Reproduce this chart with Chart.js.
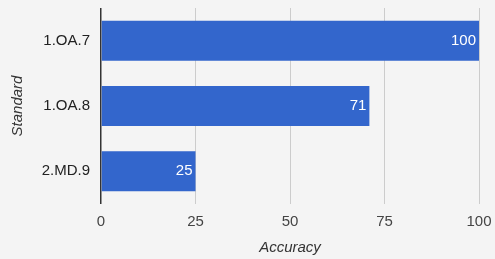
<!DOCTYPE html>
<html>
<head>
<meta charset="utf-8">
<script src="https://cdn.jsdelivr.net/npm/chart.js@4.4.1/dist/chart.umd.min.js"></script>
<style>
  html, body { margin: 0; padding: 0; background: #f4f4f4; }
  #wrap { width: 495px; height: 259px; position: relative; }
</style>
</head>
<body>
<div id="wrap"><canvas id="chart"></canvas></div>
<script>
const standards = ['1.OA.7', '1.OA.8', '2.MD.9'];
const accuracy = [100, 71, 25];
const accuracyTicks = [0, 25, 50, 75, 100];

const FONT = 'Arial, "Liberation Sans", sans-serif';

// draws the value at the inner end of each bar
const barValues = {
    id: 'barValues',
    afterDatasetsDraw(chart) {
        const ctx = chart.ctx;
        const meta = chart.getDatasetMeta(0);
        ctx.save();
        ctx.font = '15px ' + FONT;
        ctx.fillStyle = '#ffffff';
        ctx.textAlign = 'right';
        ctx.textBaseline = 'middle';
        meta.data.forEach((bar, i) => {
            ctx.fillText(String(accuracy[i]), bar.x - 3, bar.y);
        });
        ctx.restore();
    }
};

new Chart(document.getElementById('chart'), {
    type: 'bar',
    data: {
        labels: standards,
        datasets: [{
            label: 'Accuracy',
            data: accuracy,
            backgroundColor: '#3366cc',
            borderWidth: 0,
            barPercentage: 1,
            categoryPercentage: 0.612
        }]
    },
    options: {
        indexAxis: 'y',
        animation: false,
        responsive: true,
        maintainAspectRatio: false,
        layout: { padding: { top: 8, right: 16, bottom: 0, left: 0 } },
        scales: {
            x: {
                min: 0,
                max: 100,
                afterBuildTicks(scale) {
                    scale.ticks = accuracyTicks.map(v => ({ value: v }));
                },
                afterFit(scale) {
                    scale.height = 55;
                    scale.paddingLeft = 0;
                    scale.paddingRight = 0;
                },
                grid: {
                    drawTicks: false,
                    color: c => c.tick && c.tick.value === 0 ? '#333333' : '#cccccc',
                    lineWidth: c => c.tick && c.tick.value === 0 ? 1.5 : 1
                },
                border: { display: false },
                ticks: {
                    padding: 9,
                    color: '#444444',
                    font: { family: FONT, size: 15 }
                },
                title: {
                    display: true,
                    text: 'Accuracy',
                    color: '#333333',
                    padding: { top: 0, bottom: 2 },
                    font: { family: FONT, size: 15, style: 'italic' }
                }
            },
            y: {
                afterFit(scale) {
                    scale.width = 101;
                    scale.paddingTop = 0;
                    scale.paddingBottom = 0;
                },
                grid: { display: false, drawTicks: false },
                border: { display: false },
                ticks: {
                    padding: 11,
                    color: '#222222',
                    font: { family: FONT, size: 15 }
                },
                title: {
                    display: true,
                    text: 'Standard',
                    color: '#333333',
                    padding: { top: 9, bottom: 0 },
                    font: { family: FONT, size: 15, style: 'italic' }
                }
            }
        },
        plugins: {
            legend: { display: false },
            tooltip: { enabled: false }
        }
    },
    plugins: [barValues]
});
</script>
</body>
</html>
